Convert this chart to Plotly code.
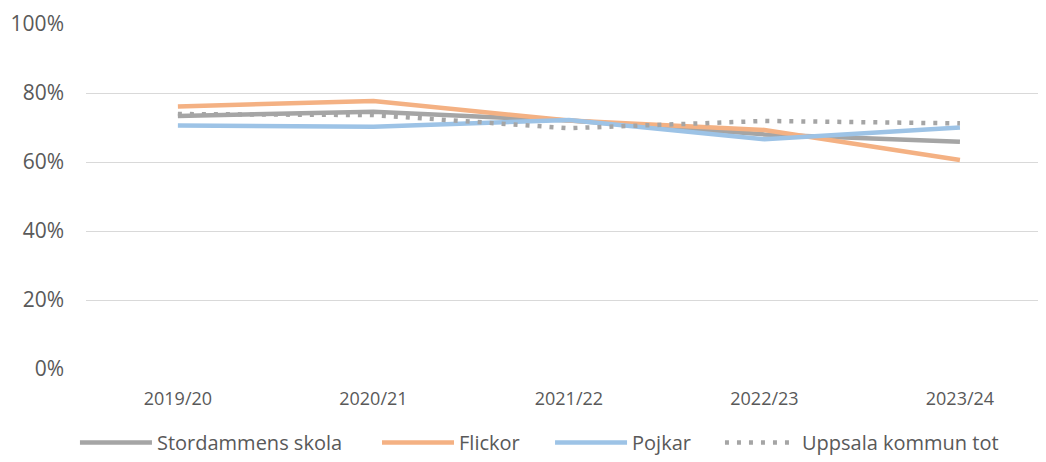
import plotly.graph_objects as go

categories = ["2019/20", "2020/21", "2021/22", "2022/23", "2023/24"]
stordammen = [0.733, 0.746, 0.720, 0.680, 0.659]
flickor = [0.761, 0.777, 0.720, 0.693, 0.606]
pojkar = [0.706, 0.702, 0.722, 0.666, 0.700]
uppsala = [0.739, 0.736, 0.698, 0.719, 0.712]
yticks = [0, 0.2, 0.4, 0.6, 0.8, 1.0]
ytick_labels = ["0%", "20%", "40%", "60%", "80%", "100%"]

x = list(range(len(categories)))
font_family = "Open Sans, Liberation Sans, sans-serif"
text_color = "#595959"

# The page body has an 8px default margin, so the figure is drawn 8px smaller.
W, H = 1038, 454

fig = go.Figure()
fig.add_trace(go.Scatter(x=x, y=stordammen, name="Stordammens skola", mode="lines",
                         line=dict(color="#A5A5A5", width=4.5), legend="legend"))
fig.add_trace(go.Scatter(x=x, y=flickor, name="Flickor", mode="lines",
                         line=dict(color="#F4B183", width=4.5), legend="legend2"))
fig.add_trace(go.Scatter(x=x, y=pojkar, name="Pojkar", mode="lines",
                         line=dict(color="#9DC3E6", width=4.5), legend="legend3"))
fig.add_trace(go.Scatter(x=x, y=uppsala, name="Uppsala kommun tot", mode="lines",
                         line=dict(color="#A5A5A5", width=4.5, dash="4px,8px"),
                         legend="legend4"))


def leg(xpos):
    return dict(orientation="h", xref="container", yref="container",
                x=xpos, xanchor="left", y=-0.011, yanchor="bottom",
                font=dict(size=20, color=text_color), itemwidth=72,
                bgcolor="rgba(0,0,0,0)")


fig.update_layout(
    width=W, height=H,
    margin=dict(l=78, r=1, t=16, b=93),
    paper_bgcolor="white", plot_bgcolor="white",
    font=dict(family=font_family, size=18, color=text_color),
    showlegend=True,
    legend=leg(0.0645),
    legend2=leg(0.3555),
    legend3=leg(0.5222),
    legend4=leg(0.6859),
    xaxis=dict(tickmode="array", tickvals=x, ticktext=categories,
               range=[-0.47, 4.435], showgrid=False, zeroline=False,
               showline=False, ticks="", ticklabelstandoff=17, automargin=False,
               tickfont=dict(size=18, color=text_color)),
    yaxis=dict(tickmode="array", tickvals=yticks, ticktext=ytick_labels,
               range=[0, 1.0], showgrid=True, gridcolor="#D9D9D9", gridwidth=1.3,
               zeroline=False, showline=False, ticks="", ticklabelstandoff=21,
               automargin=False,
               tickfont=dict(size=21, color=text_color)),
)

fig.write_html("out.html")
